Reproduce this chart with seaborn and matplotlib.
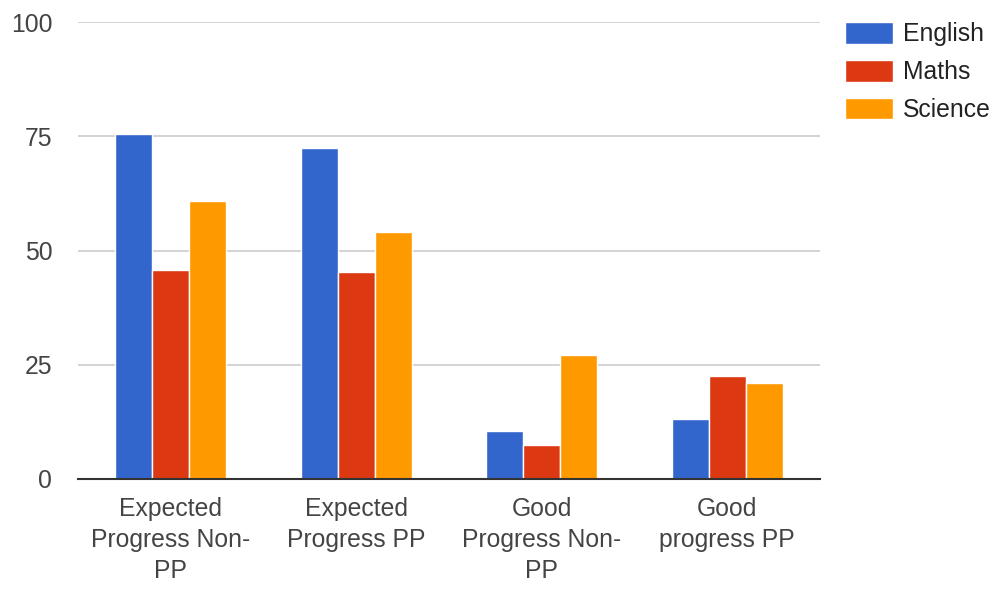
import matplotlib
matplotlib.use("Agg")
import matplotlib.pyplot as plt
import seaborn as sns
import pandas as pd

categories = ["Expected Progress Non-PP", "Expected Progress PP",
              "Good Progress Non-PP", "Good progress PP"]
tick_labels = ["Expected\nProgress Non-\nPP", "Expected\nProgress PP",
               "Good\nProgress Non-\nPP", "Good\nprogress PP"]
subjects = ["English", "Maths", "Science"]
english = [75.6, 72.4, 10.6, 13.2]
maths = [45.7, 45.3, 7.5, 22.5]
science = [60.8, 54.0, 27.2, 21.1]
colors = ["#3366CC", "#DC3912", "#FF9900"]
yticks = [0, 25, 50, 75, 100]

rows = []
for s, vals in zip(subjects, [english, maths, science]):
    for c, v in zip(categories, vals):
        rows.append({"category": c, "subject": s, "value": v})
df = pd.DataFrame(rows)

sns.set_style("white")
plt.rcParams["font.family"] = ["Liberation Sans", "DejaVu Sans"]

fig = plt.figure(figsize=(10.01, 5.89), dpi=100)
ax = fig.add_axes([78/1001, 1 - 479/589, 742/1001, 457/589])

sns.barplot(data=df, x="category", y="value", hue="subject",
            order=categories, hue_order=subjects, palette=colors,
            width=0.6, edgecolor="white", linewidth=1, ax=ax,
            errorbar=None, saturation=1, zorder=3)

ax.set_ylim(0, 100)
ax.set_xlim(-0.5, 3.5)
ax.set_yticks(yticks)
ax.set_yticklabels([str(t) for t in yticks])
ax.set_xticks(range(len(categories)))
ax.set_xticklabels(tick_labels, linespacing=1.37)
ax.tick_params(axis="both", length=0, labelsize=17.8, labelcolor="#444444")
ax.tick_params(axis="x", pad=13)
ax.tick_params(axis="y", pad=18.5)
ax.set_xlabel("")
ax.set_ylabel("")
for sp in ["top", "right", "left"]:
    ax.spines[sp].set_visible(False)
ax.spines["bottom"].set_color("#333333")
ax.spines["bottom"].set_linewidth(1.5)
ax.spines["bottom"].set_zorder(5)
ax.yaxis.grid(True, color="#cccccc", linewidth=1.2, zorder=0)
ax.set_axisbelow(True)

for lbl in ax.get_yticklabels():
    lbl.set_horizontalalignment("right")

handles, labels = ax.get_legend_handles_labels()
ax.legend(handles, labels, loc="upper left",
          bbox_to_anchor=(845/1001, 1 - 22/589), bbox_transform=fig.transFigure,
          frameon=False, fontsize=17.8, labelcolor="#222222",
          handlelength=1.95, handleheight=0.97, handletextpad=0.4,
          labelspacing=0.55, borderpad=0, borderaxespad=0)

fig.savefig("out.png", dpi=100)
